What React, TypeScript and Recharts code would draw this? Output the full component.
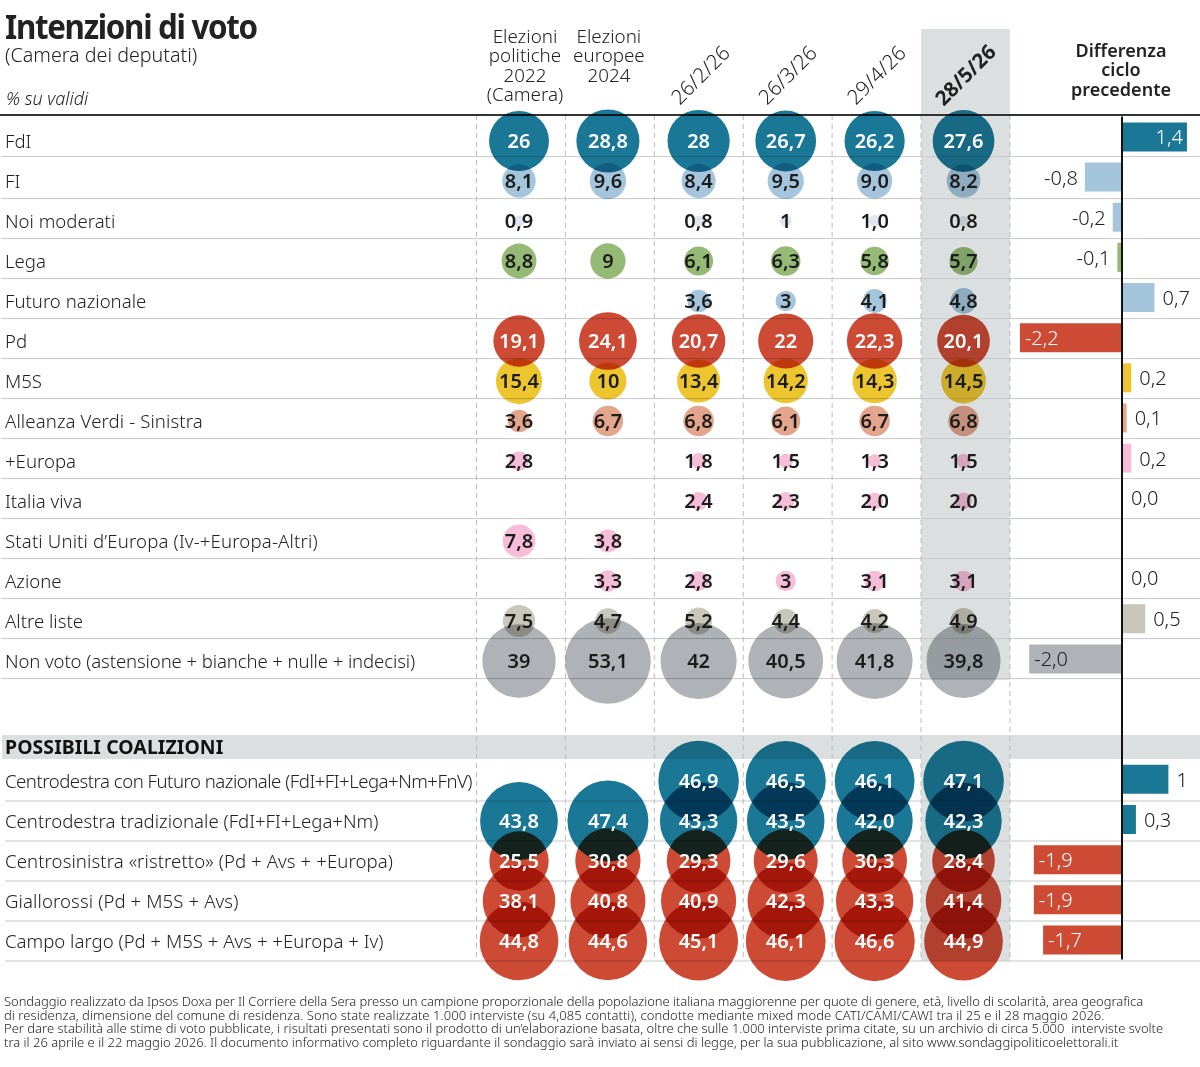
import React from 'react';
import {
  Bar,
  BarChart,
  Cell,
  LabelList,
  ReferenceArea,
  ReferenceDot,
  ReferenceLine,
  Scatter,
  ScatterChart,
  XAxis,
  YAxis,
  ZAxis,
} from 'recharts';

const FONT = '"Noto Sans", sans-serif';

const columns = ['Elezioni politiche 2022 (Camera)', 'Elezioni europee 2024', '26/2/26', '26/3/26', '29/4/26', '28/5/26'];
const columnHeads = [
  ['Elezioni', 'politiche', '2022', '(Camera)'],
  ['Elezioni', 'europee', '2024'],
];
const columnPos = [0, 1, 2.02, 3, 4, 5];

const rowLabels = [
  'FdI',
  'FI',
  'Noi moderati',
  'Lega',
  'Futuro nazionale',
  'Pd',
  'M5S',
  'Alleanza Verdi - Sinistra',
  '+Europa',
  'Italia viva',
  'Stati Uniti d’Europa (Iv-+Europa-Altri)',
  'Azione',
  'Altre liste',
  'Non voto (astensione + bianche + nulle + indecisi)',
  '',
  'POSSIBILI COALIZIONI',
  'Centrodestra con Futuro nazionale (FdI+FI+Lega+Nm+FnV)',
  'Centrodestra tradizionale (FdI+FI+Lega+Nm)',
  'Centrosinistra «ristretto» (Pd + Avs + +Europa)',
  'Giallorossi (Pd + M5S + Avs)',
  'Campo largo (Pd + M5S + Avs + +Europa + Iv)',
];
const rowSpacing = [0, 0, 0, 0, 0, 0, 0, 0.1, 0, 0, 0.15, 0, 0, -0.12, 0, 0.1, -0.5, 0, 0.08, 0.1, 0];

const fdi = ['26', '28,8', '28', '26,7', '26,2', '27,6'];
const fi = ['8,1', '9,6', '8,4', '9,5', '9,0', '8,2'];
const noiModerati = ['0,9', null, '0,8', '1', '1,0', '0,8'];
const lega = ['8,8', '9', '6,1', '6,3', '5,8', '5,7'];
const futuro = [null, null, '3,6', '3', '4,1', '4,8'];
const pd = ['19,1', '24,1', '20,7', '22', '22,3', '20,1'];
const m5s = ['15,4', '10', '13,4', '14,2', '14,3', '14,5'];
const avs = ['3,6', '6,7', '6,8', '6,1', '6,7', '6,8'];
const piuEuropa = ['2,8', null, '1,8', '1,5', '1,3', '1,5'];
const italiaViva = [null, null, '2,4', '2,3', '2,0', '2,0'];
const statiUniti = ['7,8', '3,8', null, null, null, null];
const azione = [null, '3,3', '2,8', '3', '3,1', '3,1'];
const altre = ['7,5', '4,7', '5,2', '4,4', '4,2', '4,9'];
const nonVoto = ['39', '53,1', '42', '40,5', '41,8', '39,8'];
const cdxFn = [null, null, '46,9', '46,5', '46,1', '47,1'];
const cdx = ['43,8', '47,4', '43,3', '43,5', '42,0', '42,3'];
const csx = ['25,5', '30,8', '29,3', '29,6', '30,3', '28,4'];
const giallorossi = ['38,1', '40,8', '40,9', '42,3', '43,3', '41,4'];
const campoLargo = ['44,8', '44,6', '45,1', '46,1', '46,6', '44,9'];

const TEAL = '#1a7896';
const RED = '#cd4a34';
const PINK = '#f6bdd8';
const SKY = '#a4c5db';

const series = [
  { row: 0, values: fdi, color: TEAL, text: '#fff' },
  { row: 1, values: fi, color: SKY, text: '#1c1c1c' },
  { row: 2, values: noiModerati, color: '#dfe6f0', text: '#1c1c1c' },
  { row: 3, values: lega, color: '#94ba76', text: '#1c1c1c' },
  { row: 4, values: futuro, color: SKY, text: '#1c1c1c' },
  { row: 5, values: pd, color: RED, text: '#fff' },
  { row: 6, values: m5s, color: '#edc52f', text: '#1c1c1c' },
  { row: 7, values: avs, color: '#e4a58d', text: '#1c1c1c' },
  { row: 8, values: piuEuropa, color: PINK, text: '#1c1c1c' },
  { row: 9, values: italiaViva, color: PINK, text: '#1c1c1c' },
  { row: 10, values: statiUniti, color: PINK, text: '#1c1c1c' },
  { row: 11, values: azione, color: PINK, text: '#1c1c1c' },
  { row: 12, values: altre, color: '#c9c7b9', text: '#1c1c1c' },
  { row: 13, values: nonVoto, color: '#afb3b7', text: '#1c1c1c' },
  { row: 16, values: cdxFn, color: TEAL, text: '#fff' },
  { row: 17, values: cdx, color: TEAL, text: '#fff' },
  { row: 18, values: csx, color: RED, text: '#fff' },
  { row: 19, values: giallorossi, color: RED, text: '#fff' },
  { row: 20, values: campoLargo, color: RED, text: '#fff' },
];

const diffs = [1.4, -0.8, -0.2, -0.1, 0.7, -2.2, 0.2, 0.1, 0.2, 0, null, 0, 0.5, -2, null, null, 1, 0.3, -1.9, -1.9, -1.7];
const diffLabels = ['1,4', '-0,8', '-0,2', '-0,1', '0,7', '-2,2', '0,2', '0,1', '0,2', '0,0', '', '0,0', '0,5', '-2,0', '', '', '1', '0,3', '-1,9', '-1,9', '-1,7'];
const diffColors = [TEAL, SKY, SKY, '#94ba76', SKY, RED, '#edc52f', '#e4a58d', PINK, PINK, PINK, PINK, '#c9c7b9', '#afb3b7', PINK, PINK, TEAL, TEAL, RED, RED, RED];

const footnotes = [
  'Sondaggio realizzato da Ipsos Doxa per Il Corriere della Sera presso un campione proporzionale della popolazione italiana maggiorenne per quote di genere, età, livello di scolarità, area geografica',
  'di residenza, dimensione del comune di residenza. Sono state realizzate 1.000 interviste (su 4,085 contatti), condotte mediante mixed mode CATI/CAMI/CAWI tra il 25 e il 28 maggio 2026.',
  'Per dare stabilità alle stime di voto pubblicate, i risultati presentati sono il prodotto di un’elaborazione basata, oltre che sulle 1.000 interviste prima citate, su un archivio di circa 5.000  interviste svolte',
  'tra il 26 aprile e il 22 maggio 2026. Il documento informativo completo riguardante il sondaggio sarà inviato ai sensi di legge, per la sua pubblicazione, al sito www.sondaggipoliticoelettorali.it',
];
const footnoteSpacing = [-0.066, 0.05, -0.01, -0.01];

const toPoints = (values: (string | null)[], row: number) =>
  values.flatMap((label, i) =>
    label === null ? [] : [{ col: columnPos[i], row, label, v: parseFloat(label.replace(',', '.')) }],
  );

const barData = diffs.map((d, i) => ({ name: rowLabels[i] || `r${i}`, d, label: diffLabels[i] }));
const zeroRows = barData.filter((b) => b.d === 0);
const rowTicks = rowLabels.map((_, i) => i);
const upperLines = [0.39, 1.44, 2.44, 3.44, 4.44, 5.44, 6.44, 7.44, 8.44, 9.44, 10.44, 11.44, 12.44, 13.44];
const lowerLines = [16.5, 17.5, 18.5, 19.5, 20.5];
const colLines = [-0.478, 0.522, 1.522, 2.522, 3.522, 4.522, 5.522];

const Bubble = (p: any) => (
  <circle cx={p.cx} cy={p.cy} r={p.width / 2} fill={p.fill} style={{ mixBlendMode: 'multiply' }} />
);

const RowTick = (p: any) => {
  const i = p.payload.value;
  const head = i === 15;
  return (
    <text
      x={5}
      y={head ? p.y + 13 : p.y + 6.5}
      fontFamily={FONT}
      fontSize={head ? 19.4 : 18.6}
      fontWeight={head ? 700 : 300}
      letterSpacing={rowSpacing[i]}
      fill={head ? '#111' : '#222'}
    >
      {rowLabels[i]}
    </text>
  );
};

const ColTick = (p: any) => {
  const i = columnPos.indexOf(p.payload.value);
  if (i < 2) {
    return (
      <text fontFamily={FONT} fontSize={18.8} fontWeight={300} fill="#222" textAnchor="middle">
        {columnHeads[i].map((line, k) => (
          <tspan key={line} x={p.x + (i === 0 ? 6 : 1)} y={43 + k * 19.3}>
            {line}
          </tspan>
        ))}
      </text>
    );
  }
  return (
    <text
      x={p.x + 2}
      y={82}
      transform={`rotate(-45 ${p.x + 2} 75)`}
      textAnchor="middle"
      fontFamily={FONT}
      fontSize={20.5}
      fontWeight={i === 5 ? 700 : 300}
      fill="#222"
    >
      {columns[i]}
    </text>
  );
};

const DiffLabel = (p: any) => {
  const txt = p.value;
  if (!txt) return null;
  const d = parseFloat(String(txt).replace(',', '.'));
  if (d === 0) return null;
  const end = p.x + p.width;
  const inside = d <= -1.5 || d === 1.4;
  let x = end + 8;
  let anchor = 'start';
  if (d === 1.4) {
    x = end - 4;
    anchor = 'end';
  } else if (inside) {
    x = end + 5;
  } else if (d < 0) {
    x = end - 7;
    anchor = 'end';
  }
  const dark = d === -2 || !inside;
  return (
    <text x={x} y={p.y + p.height / 2 + 7.5} textAnchor={anchor as any} fontFamily={FONT} fontSize={20} fontWeight={300} fill={dark ? '#222' : '#fff'}>
      {txt}
    </text>
  );
};

const abs = (left: number, top: number): React.CSSProperties => ({
  position: 'absolute',
  left,
  top,
  whiteSpace: 'pre',
  fontFamily: FONT,
  color: '#222',
});

export default function App() {
  return (
    <div style={{ position: 'absolute', left: 0, top: 0, width: 1200, height: 1067, background: '#fff', overflow: 'hidden' }}>
      <div style={{ position: 'absolute', left: 0, top: 0 }}>
        <ScatterChart width={1200} height={1067} margin={{ top: 29, right: 0, bottom: 106, left: 0 }}>
          <XAxis type="number" dataKey="col" domain={[-5.838, 7.66]} ticks={columnPos} orientation="top" height={1} mirror tickLine={false} axisLine={false} interval={0} tick={<ColTick />} />
          <YAxis type="number" dataKey="row" reversed domain={[-2.8, 20.5]} ticks={rowTicks} width={1} mirror tickLine={false} axisLine={false} interval={0} tick={<RowTick />} />
          <ZAxis type="number" dataKey="v" domain={[0, 100]} range={[0, 10860]} />
          <ReferenceArea x1={4.522} x2={5.522} y1={-2.8} y2={13.475} fill="#dcdfe0" fillOpacity={1} stroke="none" />
          <ReferenceArea x1={-5.815} x2={7.66} y1={14.85} y2={15.45} fill="#dcdfe0" fillOpacity={1} stroke="none" />
          <ReferenceArea x1={4.522} x2={5.522} y1={15.45} y2={20.5} fill="#dcdfe0" fillOpacity={1} stroke="none" />
          {upperLines.map((y) => (
            <ReferenceLine key={y} segment={[{ x: -5.825, y }, { x: 7.66, y }]} stroke="#c6c8c9" strokeWidth={1} />
          ))}
          {lowerLines.map((y) => (
            <ReferenceLine key={y} segment={[{ x: -5.782, y }, { x: 7.66, y }]} stroke="#c6c8c9" strokeWidth={1} />
          ))}
          {colLines.map((x) => (
            <ReferenceLine key={x} segment={[{ x, y: -0.65 }, { x, y: 20.5 }]} stroke="#b9bbbd" strokeWidth={1} strokeDasharray="5 4" />
          ))}
          <ReferenceLine y={-0.65} stroke="#333" strokeWidth={2} />
          {series.map((s) => (
            <Scatter key={s.row} data={toPoints(s.values, s.row)} fill={s.color} shape={<Bubble />} isAnimationActive={false}>
              <LabelList dataKey="label" position="center" fill={s.text} fontFamily={FONT} fontSize={20} fontWeight={600} />
            </Scatter>
          ))}
        </ScatterChart>
      </div>
      <div style={{ position: 'absolute', left: 0, top: 0 }}>
        <BarChart width={1200} height={1067} layout="vertical" data={barData} margin={{ top: 116.4, right: 0, bottom: 107.4, left: 0 }} barCategoryGap={0}>
          <XAxis type="number" hide domain={[-24.18, 1.681]} />
          <YAxis type="category" dataKey="name" hide />
          <Bar dataKey="d" barSize={29} isAnimationActive={false}>
            {barData.map((b, i) => (
              <Cell key={b.name} fill={diffColors[i]} />
            ))}
            <LabelList dataKey="label" content={<DiffLabel />} />
          </Bar>
          <ReferenceLine x={0} stroke="#111" strokeWidth={2} />
          {zeroRows.map((b) => (
            <ReferenceDot
              key={b.name}
              x={0}
              y={b.name}
              r={1}
              fill="none"
              stroke="none"
              label={{ value: b.label, position: 'right', offset: 8, fontFamily: FONT, fontSize: 20, fontWeight: 300, fill: '#222' }}
            />
          ))}
        </BarChart>
      </div>

      <div style={{ ...abs(5, 9), fontSize: 34, lineHeight: '34px', fontWeight: 700, letterSpacing: -1.4, transform: 'scaleX(0.92)', transformOrigin: 'left' }}>Intenzioni di voto</div>
      <div style={{ ...abs(5, 44), fontSize: 19.7, lineHeight: '22px', fontWeight: 300 }}>(Camera dei deputati)</div>
      <div style={{ ...abs(6, 86), fontSize: 18, fontWeight: 300, fontStyle: 'italic' }}>% su validi</div>
      <div style={{ ...abs(1021, 41), width: 200, whiteSpace: 'normal', textAlign: 'center', fontSize: 18, fontWeight: 600, lineHeight: '19.3px' }}>
        Differenza<br />ciclo<br />precedente
      </div>
      {footnotes.map((line, i) => (
        <div key={i} style={{ ...abs(4, 994 + i * 13.7), fontSize: 13, fontWeight: 300, lineHeight: '14px', letterSpacing: footnoteSpacing[i] }}>{line}</div>
      ))}
    </div>
  );
}
